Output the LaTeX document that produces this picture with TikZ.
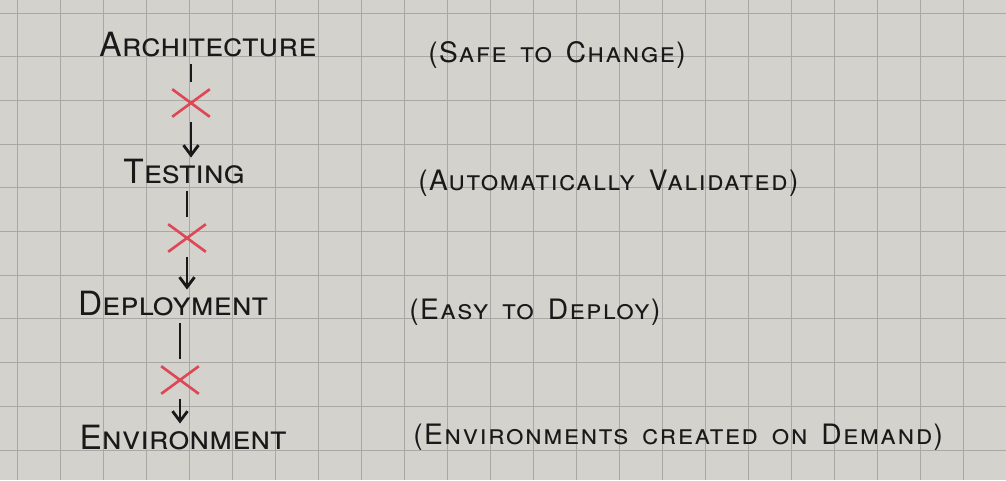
\documentclass[tikz,border=0pt]{standalone}
\usepackage{fontspec}
\setmainfont{TeX Gyre Heros}
\newfontfamily\remarkfamily[LetterSpace=5,WordSpace=1.5]{TeX Gyre Heros}
\usetikzlibrary{arrows.meta,positioning,shapes.misc}
\definecolor{paper}{RGB}{212,210,204}
\definecolor{gridline}{RGB}{168,168,165}
\definecolor{ink}{RGB}{25,25,25}
\definecolor{redink}{RGB}{222,72,86}
\tikzset{heading/.style={font=\fontsize{19}{22}\selectfont\scshape, text=ink, inner sep=1pt}}
\tikzset{remark/.style={font=\remarkfamily\fontsize{16}{20}\selectfont\scshape,
    text=ink, anchor=west, inner sep=0pt}}
\tikzset{crossmark/.style={cross out, draw=redink, line width=1.5pt,
    minimum width=0.7cm, minimum height=0.5cm, inner sep=0pt}}
\tikzset{stub/.style={draw=ink, line width=1.6pt}}
\tikzset{flow/.style={stub, -{Straight Barb[length=0.2cm,width=0.3cm]}}}

\begin{document}
\begin{tikzpicture}[x=0.02cm, y=-0.02cm]
  % squared paper
  \fill[paper] (0,0) rectangle (1006,480);
  \useasboundingbox (0,0) rectangle (1006,480);
  \foreach \gx in {0,...,23}
    \draw[gridline, line width=0.5pt] (17+43*\gx,0) -- (17+43*\gx,480);
  \foreach \gy in {0,...,10}
    \draw[gridline, line width=0.5pt] (0,13+43.7*\gy) -- (1006,13+43.7*\gy);

  % left column
  \node[heading] (arch) at (208,45) {Architecture};
  \node[heading] (test) at (184,172) {Testing};
  \node[heading] (depl) at (173,304) {Deployment};
  \node[heading] (env) at (183,438) {Environment};

  \node[crossmark] (xa) at (191,103) {};
  \node[crossmark] (xb) at (187,238) {};
  \node[crossmark] (xc) at (180,380) {};

  \draw[stub, shorten <=0.1cm, shorten >=0.14cm] (xa |- arch.south) -- (xa.north);
  \draw[flow, shorten <=0.1cm] (xa.south) -- (xa |- test.north);
  \draw[stub, shorten <=0.1cm, shorten >=0.14cm] (xb |- test.south) -- (xb.north);
  \draw[flow, shorten <=0.1cm] (xb.south) -- (xb |- depl.north);
  \draw[stub, shorten <=0.1cm, shorten >=0.14cm] (xc |- depl.south) -- (xc.north);
  \draw[flow, shorten <=0.1cm] (xc.south) -- (xc |- env.north);

  % right column
  \node[remark] (safe) at (428,55) {(Safe to Change)};
  \node[remark] (auto) at (418,183) {(Automatically Validated)};
  \node[remark] (easy) at (409,312) {(Easy to Deploy)};
  \node[remark] (demand) at (413,437) {(Environments created on Demand)};
\end{tikzpicture}
\end{document}
